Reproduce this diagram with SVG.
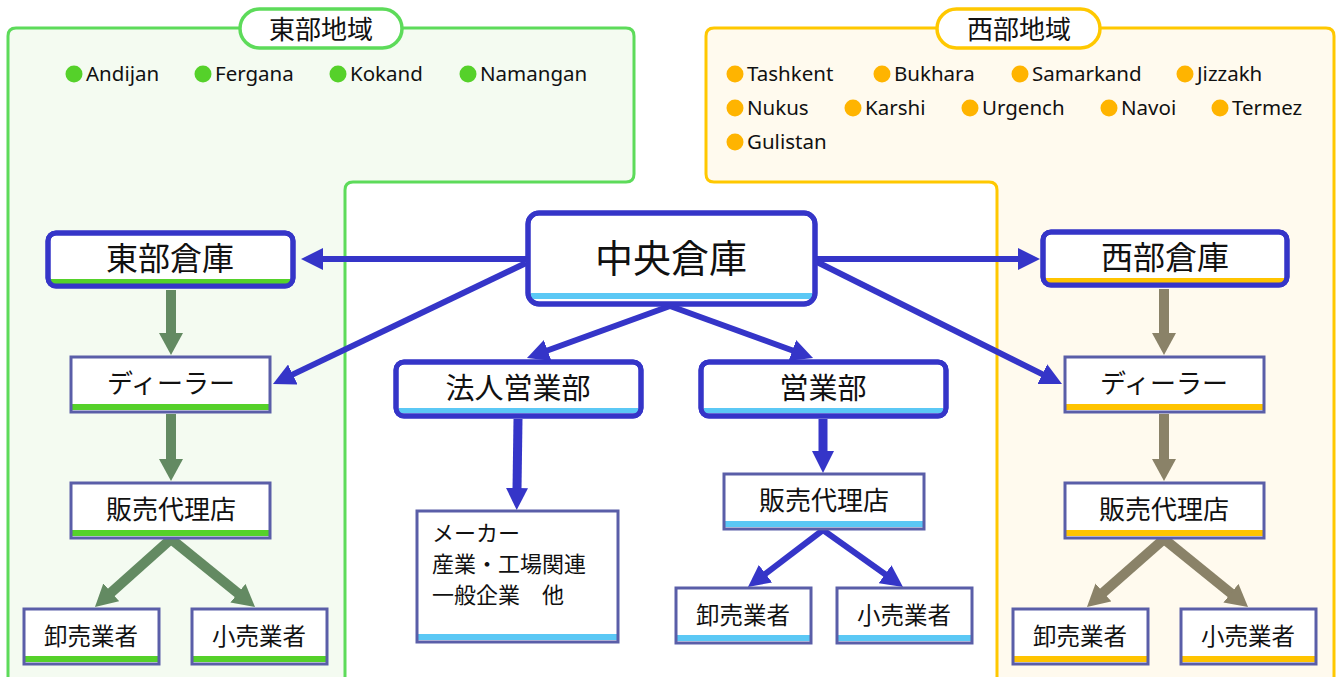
<svg xmlns="http://www.w3.org/2000/svg" width="1340" height="677" viewBox="0 0 1340 677">
<style>
.jp{font-family:"Noto Sans CJK JP","Noto Sans",sans-serif;fill:#111;text-anchor:middle}
.city{font-family:"Noto Sans","Liberation Sans",sans-serif;font-size:20.5px;fill:#111}
.big{fill:#fff;stroke:#3535c8;stroke-width:5}
.bigc{fill:none;stroke:#3535c8;stroke-width:5}
.sm{fill:none;stroke:#5a5ea8;stroke-width:3}
.bg{fill:#fff}
.gbar{fill:#55d12a}
.ybar{fill:#ffc400}
.bbar{fill:#5bc8f5}
.cg{stroke:#638a62;stroke-width:10;fill:none}
.cb{stroke:#8a8268;stroke-width:10;fill:none}
.cu{stroke:#3535c8;stroke-width:6;fill:none}
.cu2{stroke:#3535c8;stroke-width:9;fill:none}
</style>
<defs>
<marker id="ag" viewBox="0 -12 22 24" refX="1" refY="0" markerWidth="22" markerHeight="24" markerUnits="userSpaceOnUse" orient="auto"><path d="M0,-12 L22,0 L0,12 z" fill="#638a62"/></marker>
<marker id="ab" viewBox="0 -12 22 24" refX="1" refY="0" markerWidth="22" markerHeight="24" markerUnits="userSpaceOnUse" orient="auto"><path d="M0,-12 L22,0 L0,12 z" fill="#8a8268"/></marker>
<marker id="au" viewBox="0 -11 22 22" refX="1" refY="0" markerWidth="22" markerHeight="22" markerUnits="userSpaceOnUse" orient="auto"><path d="M0,-11 L22,0 L0,11 z" fill="#3535c8"/></marker>
</defs>

<g id="region-east">
<path d="M16,28 H626 Q634,28 634,36 V174 Q634,182 626,182 H353 Q345,182 345,190 V690 H8 V36 Q8,28 16,28 Z" fill="#f4fbf1" stroke="#5ddb5a" stroke-width="3"/>
<rect x="240" y="9" width="162" height="39" rx="19.5" fill="#fff" stroke="#5ddb5a" stroke-width="3.5"/>
<text class="jp" x="321" y="39" font-size="26">東部地域</text>
<g fill="#55d12a"><circle cx="74" cy="74" r="8.5"/><circle cx="203" cy="74" r="8.5"/><circle cx="338" cy="74" r="8.5"/><circle cx="468" cy="74" r="8.5"/></g>
<text class="city" x="86" y="81">Andijan</text>
<text class="city" x="215" y="81">Fergana</text>
<text class="city" x="350" y="81">Kokand</text>
<text class="city" x="480" y="81">Namangan</text>
</g>

<g id="region-west">
<path d="M714,28 H1326 Q1334,28 1334,36 V690 H997 V190 Q997,182 989,182 H714 Q706,182 706,174 V36 Q706,28 714,28 Z" fill="#fffaee" stroke="#ffc800" stroke-width="3"/>
<rect x="937" y="9" width="163" height="39" rx="19.5" fill="#fff" stroke="#ffc800" stroke-width="3.5"/>
<text class="jp" x="1019" y="39" font-size="26">西部地域</text>
<g fill="#ffb400"><circle cx="735" cy="74" r="8.5"/><circle cx="882" cy="74" r="8.5"/><circle cx="1020" cy="74" r="8.5"/><circle cx="1185" cy="74" r="8.5"/>
<circle cx="735" cy="108" r="8.5"/><circle cx="853" cy="108" r="8.5"/><circle cx="970" cy="108" r="8.5"/><circle cx="1109" cy="108" r="8.5"/><circle cx="1220" cy="108" r="8.5"/>
<circle cx="735" cy="142" r="8.5"/></g>
<text class="city" x="747" y="81">Tashkent</text>
<text class="city" x="894" y="81">Bukhara</text>
<text class="city" x="1032" y="81">Samarkand</text>
<text class="city" x="1197" y="81">Jizzakh</text>
<text class="city" x="747" y="115">Nukus</text>
<text class="city" x="865" y="115">Karshi</text>
<text class="city" x="982" y="115">Urgench</text>
<text class="city" x="1121" y="115">Navoi</text>
<text class="city" x="1232" y="115">Termez</text>
<text class="city" x="747" y="149">Gulistan</text>
</g>

<g id="connectors">
<line class="cg" x1="171" y1="290" x2="171" y2="334" marker-end="url(#ag)"/>
<line class="cg" x1="171" y1="414" x2="171" y2="460" marker-end="url(#ag)"/>
<line class="cg" x1="171" y1="539" x2="110.6" y2="593" marker-end="url(#ag)"/>
<line class="cg" x1="171" y1="539" x2="238.7" y2="593.8" marker-end="url(#ag)"/>
<line class="cb" x1="1164" y1="289" x2="1164" y2="334" marker-end="url(#ab)"/>
<line class="cb" x1="1164" y1="414" x2="1164" y2="460" marker-end="url(#ab)"/>
<line class="cb" x1="1164" y1="539" x2="1102.7" y2="593.1" marker-end="url(#ab)"/>
<line class="cb" x1="1164" y1="539" x2="1231.7" y2="593.8" marker-end="url(#ab)"/>
<line class="cu" x1="526" y1="259" x2="322" y2="259" marker-end="url(#au)"/>
<line class="cu" x1="526" y1="263" x2="291.9" y2="374.9" marker-end="url(#au)"/>
<line class="cu" x1="817" y1="259" x2="1019" y2="259" marker-end="url(#au)"/>
<line class="cu" x1="817" y1="262" x2="1043.2" y2="374.6" marker-end="url(#au)"/>
<line class="cu" x1="670" y1="306" x2="546.7" y2="350.8" marker-end="url(#au)"/>
<line class="cu" x1="670" y1="306" x2="793.3" y2="350.8" marker-end="url(#au)"/>
<line class="cu2" x1="518" y1="419" x2="517" y2="489" marker-end="url(#au)"/>
<line class="cu2" x1="823" y1="419" x2="823" y2="452" marker-end="url(#au)"/>
<line class="cu" x1="823" y1="530" x2="764.7" y2="574.3" marker-end="url(#au)"/>
<line class="cu" x1="823" y1="530" x2="885.9" y2="574.8" marker-end="url(#au)"/>
</g>

<g id="node-chuo">
<rect class="big" x="528" y="213" width="287" height="91" rx="11"/>
<rect class="bbar" x="531" y="293" width="281" height="6"/>
<rect class="bigc" x="528" y="213" width="287" height="91" rx="11"/>
<text class="jp" x="671" y="272" font-size="38">中央倉庫</text>
</g>
<g id="node-east-wh">
<rect class="big" x="48" y="233" width="245" height="53" rx="8"/>
<rect class="gbar" x="51" y="279" width="239" height="5"/>
<rect class="bigc" x="48" y="233" width="245" height="53" rx="8"/>
<text class="jp" x="170" y="270" font-size="32">東部倉庫</text>
</g>
<g id="node-west-wh">
<rect class="big" x="1043" y="232" width="244" height="53" rx="8"/>
<rect class="ybar" x="1046" y="278" width="238" height="5"/>
<rect class="bigc" x="1043" y="232" width="244" height="53" rx="8"/>
<text class="jp" x="1165" y="269" font-size="32">西部倉庫</text>
</g>
<g id="node-hojin">
<rect class="big" x="396" y="362" width="245" height="54" rx="8"/>
<rect class="bbar" x="399" y="408" width="239" height="5"/>
<rect class="bigc" x="396" y="362" width="245" height="54" rx="8"/>
<text class="jp" x="518" y="399" font-size="29">法人営業部</text>
</g>
<g id="node-eigyo">
<rect class="big" x="701" y="362" width="245" height="54" rx="8"/>
<rect class="bbar" x="704" y="408" width="239" height="5"/>
<rect class="bigc" x="701" y="362" width="245" height="54" rx="8"/>
<text class="jp" x="823" y="399" font-size="29">営業部</text>
</g>

<g id="node-east-dealer">
<rect class="bg" x="71" y="357" width="199" height="55"/>
<rect class="gbar" x="72" y="404" width="197" height="6"/>
<rect class="sm" x="71" y="357" width="199" height="55"/>
<text class="jp" x="171" y="393" font-size="26">ディーラー</text>
</g>
<g id="node-east-agency">
<rect class="bg" x="71" y="483" width="199" height="55"/>
<rect class="gbar" x="72" y="530" width="197" height="6"/>
<rect class="sm" x="71" y="483" width="199" height="55"/>
<text class="jp" x="171" y="519" font-size="26">販売代理店</text>
</g>
<g id="node-east-wholesale">
<rect class="bg" x="24" y="609" width="135" height="55"/>
<rect class="gbar" x="25" y="656" width="133" height="6"/>
<rect class="sm" x="24" y="609" width="135" height="55"/>
<text class="jp" x="91" y="645" font-size="23.5">卸売業者</text>
</g>
<g id="node-east-retail">
<rect class="bg" x="192" y="609" width="135" height="55"/>
<rect class="gbar" x="193" y="656" width="133" height="6"/>
<rect class="sm" x="192" y="609" width="135" height="55"/>
<text class="jp" x="259" y="645" font-size="23.5">小売業者</text>
</g>

<g id="node-west-dealer">
<rect class="bg" x="1065" y="357" width="199" height="55"/>
<rect class="ybar" x="1066" y="404" width="197" height="6"/>
<rect class="sm" x="1065" y="357" width="199" height="55"/>
<text class="jp" x="1164" y="393" font-size="26">ディーラー</text>
</g>
<g id="node-west-agency">
<rect class="bg" x="1065" y="483" width="199" height="55"/>
<rect class="ybar" x="1066" y="530" width="197" height="6"/>
<rect class="sm" x="1065" y="483" width="199" height="55"/>
<text class="jp" x="1164" y="519" font-size="26">販売代理店</text>
</g>
<g id="node-west-wholesale">
<rect class="bg" x="1013" y="609" width="135" height="55"/>
<rect class="ybar" x="1014" y="656" width="133" height="6"/>
<rect class="sm" x="1013" y="609" width="135" height="55"/>
<text class="jp" x="1080" y="645" font-size="23.5">卸売業者</text>
</g>
<g id="node-west-retail">
<rect class="bg" x="1181" y="609" width="135" height="55"/>
<rect class="ybar" x="1182" y="656" width="133" height="6"/>
<rect class="sm" x="1181" y="609" width="135" height="55"/>
<text class="jp" x="1248" y="645" font-size="23.5">小売業者</text>
</g>

<g id="node-maker">
<rect class="bg" x="417" y="511" width="201" height="131"/>
<rect class="bbar" x="418" y="634" width="199" height="6"/>
<rect class="sm" x="417" y="511" width="201" height="131"/>
<text class="jp" x="432" y="541" font-size="22" style="text-anchor:start">メーカー</text>
<text class="jp" x="432" y="572" font-size="22" style="text-anchor:start">産業・工場関連</text>
<text class="jp" x="432" y="603" font-size="22" style="text-anchor:start">一般企業　他</text>
</g>
<g id="node-center-agency">
<rect class="bg" x="724" y="474" width="200" height="55"/>
<rect class="bbar" x="725" y="521" width="198" height="6"/>
<rect class="sm" x="724" y="474" width="200" height="55"/>
<text class="jp" x="824" y="510" font-size="26">販売代理店</text>
</g>
<g id="node-center-wholesale">
<rect class="bg" x="676" y="588" width="135" height="55"/>
<rect class="bbar" x="677" y="635" width="133" height="6"/>
<rect class="sm" x="676" y="588" width="135" height="55"/>
<text class="jp" x="743" y="624" font-size="23.5">卸売業者</text>
</g>
<g id="node-center-retail">
<rect class="bg" x="837" y="588" width="135" height="55"/>
<rect class="bbar" x="838" y="635" width="133" height="6"/>
<rect class="sm" x="837" y="588" width="135" height="55"/>
<text class="jp" x="904" y="624" font-size="23.5">小売業者</text>
</g>
</svg>
